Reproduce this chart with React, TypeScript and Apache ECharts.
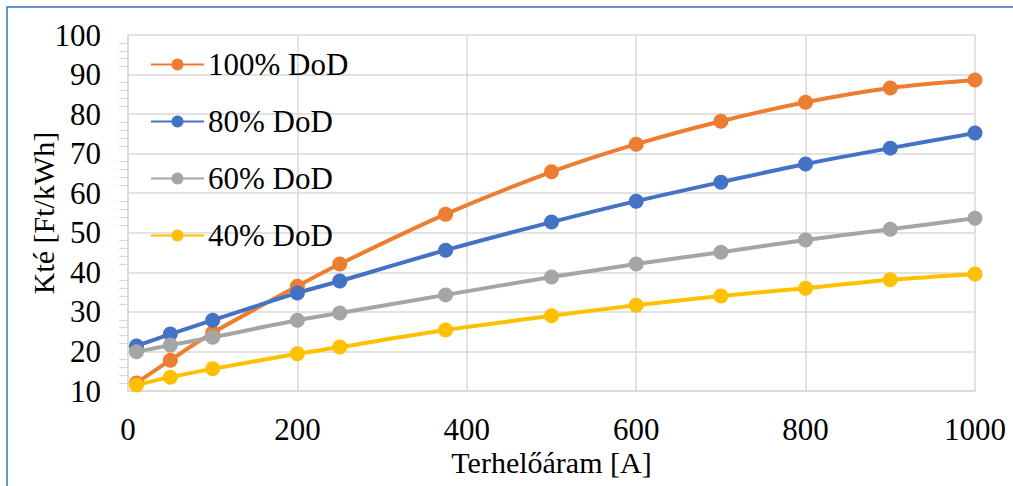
import React, { useEffect, useRef } from "react";
import * as echarts from "echarts";

const xValues = [10, 50, 100, 200, 250, 375, 500, 600, 700, 800, 900, 1000];
const dod100 = [12.0, 17.8, 24.7, 36.5, 42.1, 54.7, 65.4, 72.4, 78.2, 83.0, 86.6, 88.6];
const dod80 = [21.4, 24.4, 27.9, 34.8, 37.8, 45.6, 52.7, 58.0, 62.8, 67.4, 71.4, 75.2];
const dod60 = [19.9, 21.6, 23.6, 27.9, 29.7, 34.3, 38.8, 42.1, 45.1, 48.2, 50.9, 53.7];
const dod40 = [11.5, 13.5, 15.6, 19.4, 21.1, 25.4, 29.0, 31.7, 34.0, 36.0, 38.1, 39.6];
const seriesNames = ["100% DoD", "80% DoD", "60% DoD", "40% DoD"];
const seriesColors = ["#ED7D31", "#4472C4", "#A5A5A5", "#FFC000"];
const xTitle = "Terhelőáram [A]";
const yTitle = "Kté [Ft/kWh]";

const FONT = "Liberation Serif";

export default function App() {
  const ref = useRef<HTMLDivElement>(null);
  useEffect(() => {
    if (!ref.current) return;
    const chart = echarts.init(ref.current, null, { renderer: "svg" });
    const all = [dod100, dod80, dod60, dod40];
    chart.setOption({
      animation: false,
      backgroundColor: "#ffffff",
      textStyle: { fontFamily: FONT },
      grid: { left: 128, top: 35, right: 38, bottom: 95, containLabel: false },
      graphic: [
        {
          type: "rect",
          shape: { x: 7, y: 7, width: 1100, height: 600 },
          style: { fill: "none", stroke: "#2E75B6", lineWidth: 1.5 },
          z: 100,
        },
      ],
      legend: {
        left: 150,
        top: 49,
        padding: 0,
        orient: "vertical",
        itemWidth: 53,
        itemHeight: 15,
        itemGap: 26,
        textStyle: { fontFamily: FONT, fontSize: 31, color: "#000", padding: [0, 0, 0, -1] },
        data: seriesNames,
      },
      xAxis: {
        type: "value",
        min: 0,
        max: 1000,
        interval: 200,
        name: xTitle,
        nameLocation: "middle",
        nameGap: 56,
        nameMoveOverlap: false,
        nameTextStyle: { fontFamily: FONT, fontSize: 30, color: "#000" },
        axisLine: { show: true, lineStyle: { color: "#D9D9D9", width: 1.5 } },
        axisTick: { show: false },
        axisLabel: {
          fontFamily: FONT,
          fontSize: 31,
          color: "#000",
          margin: 23,
          formatter: (v: number) => String(v),
        },
        splitLine: { show: true, lineStyle: { color: "#D9D9D9", width: 1.5 } },
      },
      yAxis: {
        type: "value",
        min: 10,
        max: 100,
        interval: 10,
        name: yTitle,
        nameLocation: "middle",
        nameGap: 70,
        nameMoveOverlap: false,
        nameTextStyle: { fontFamily: FONT, fontSize: 30, color: "#000" },
        axisLine: { show: true, lineStyle: { color: "#D9D9D9", width: 1.5 } },
        axisTick: { show: false },
        minorTick: { show: true, splitNumber: 5, length: 9, lineStyle: { color: "#D9D9D9", width: 1.2 } },
        axisLabel: { fontFamily: FONT, fontSize: 31, color: "#000", margin: 27 },
        splitLine: { show: true, lineStyle: { color: "#D9D9D9", width: 1.5 } },
      },
      series: seriesNames.map((name, i) => ({
        name,
        type: "line",
        smooth: 0.3,
        symbol: "circle",
        symbolSize: 15,
        color: seriesColors[i],
        lineStyle: { width: 4, color: seriesColors[i] },
        itemStyle: { color: seriesColors[i] },
        data: xValues.map((x, j) => [x, all[i][j]]),
      })),
    });
    return () => chart.dispose();
  }, []);
  return (
    <div
      ref={ref}
      style={{ position: "fixed", left: 0, top: 0, width: 1013, height: 486 }}
    />
  );
}
